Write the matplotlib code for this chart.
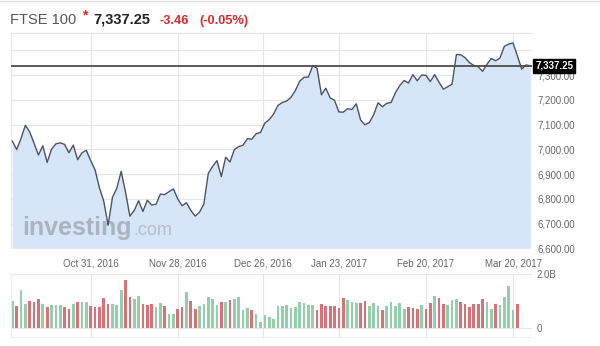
import numpy as np
import pandas as pd
import matplotlib
matplotlib.use("Agg")
import matplotlib.pyplot as plt
import matplotlib.transforms as mtransforms
from matplotlib.lines import Line2D

plt.rcParams['font.family'] = ['Liberation Sans', 'DejaVu Sans']

# ---------------- data ----------------
holidays = ['2016-12-26', '2016-12-27', '2017-01-02']
dates = pd.bdate_range('2016-10-05', '2017-03-24')
dates = dates[~dates.isin(pd.to_datetime(holidays))]

closes = [
    # Oct 2016
    7033, 6999, 7044, 7097, 7070, 7024, 6977, 7014, 6947, 7000,
    7022, 7026, 7020, 6986, 7017, 6958, 6986, 6996, 6954,
    # Nov 2016
    6917, 6845, 6790, 6693, 6806, 6843, 6911, 6827, 6730, 6753,
    6792, 6749, 6794, 6775, 6778, 6819, 6817, 6829, 6840, 6799,
    6772, 6784,
    # Dec 2016
    6753, 6730, 6746, 6779, 6902, 6931, 6954, 6890, 6968, 6949,
    6999, 7011, 7017, 7043, 7041, 7063, 7068, 7106, 7120, 7142,
    # Jan 2017
    7177, 7189, 7195, 7210, 7237, 7275, 7291, 7292, 7338, 7327,
    7220, 7247, 7208, 7198, 7151, 7150, 7164, 7161, 7184, 7118,
    7099,
    # Feb 2017
    7108, 7140, 7188, 7172, 7186, 7189, 7229, 7258, 7278, 7268,
    7302, 7277, 7300, 7299, 7274, 7302, 7271, 7243, 7253, 7263,
    # Mar 2017
    7383, 7382, 7370, 7350, 7339, 7334, 7315, 7343, 7367, 7358,
    7369, 7416, 7425, 7430, 7378, 7324, 7341, 7337.25,
]

volumes_bn = [
    1.02, 0.84, 1.43, 0.91, 1.01, 0.97, 1.08, 0.91, 0.77, 0.85,
    0.85, 0.87, 0.80, 0.71, 0.91, 0.97, 0.97, 0.97, 0.84, 0.80,
    0.80, 1.12, 0.91, 0.91, 0.87, 1.40, 1.77, 1.15, 1.07, 1.18,
    0.90, 0.87, 0.90, 0.80, 0.93, 0.84, 0.52, 0.52, 0.72, 0.80,
    1.35, 1.00, 0.72, 0.84, 0.90, 1.16, 1.07, 0.87, 0.97, 0.97,
    1.03, 1.10, 1.16, 0.66, 0.75, 0.66, 0.52, 0.21, 0.47, 0.42,
    0.35, 0.84, 0.81, 0.85, 0.74, 0.77, 0.97, 0.93, 0.87, 0.87,
    0.66, 0.90, 0.84, 0.81, 0.84, 0.75, 1.12, 1.05, 0.97, 0.95,
    0.93, 1.00, 0.84, 0.92, 0.84, 0.66, 0.84, 0.96, 0.84, 0.92,
    0.70, 0.78, 0.76, 0.72, 0.85, 0.70, 0.93, 1.20, 1.11, 0.90,
    0.85, 1.05, 1.07, 0.96, 0.90, 0.78, 0.90, 0.90, 1.10, 0.97,
    0.72, 0.90, 0.85, 1.15, 1.58, 0.66, 0.90,
]
volume_dir = ("GRGGRRRGRGGGRRGRGGRRRRRGGGRRGGRRRGGRGGRR"
              "GRRGGGGGRGRGGGGRGGGGGGGGGGGGGGRRRRRRRGGG"
              "RRGGGRGGGGGRRRGRRGRRGGGRRRRRRGGRGGGGR")

tick_dates = ['2016-10-31', '2016-11-28', '2016-12-26',
              '2017-01-23', '2017-02-20', '2017-03-20']
tick_labels = ['Oct 31, 2016', 'Nov 28, 2016', 'Dec 26, 2016',
               'Jan 23, 2017', 'Feb 20, 2017', 'Mar 20, 2017']
price_ticks = [6600, 6700, 6800, 6900, 7000, 7100, 7200, 7300, 7400]

last_price = 7337.25
change = -3.46
change_pct = -0.05

# ---------------- layout ----------------
W, H = 600, 346
fig = plt.figure(figsize=(W / 100, H / 100), dpi=100)
fig.patch.set_facecolor('white')


def rect(l, t, r, b):
    return [l / W, 1 - b / H, (r - l) / W, (b - t) / H]


ax = fig.add_axes(rect(10.5, 33, 532, 248.3))
axv = fig.add_axes(rect(10.5, 274.3, 532, 337), sharex=ax)

x = np.arange(len(closes))
grid_c = '#e6e6e6'
text_c = '#666666'
line_c = '#4a5365'
fill_c = '#d6e6f8'
green_c = '#93cfab'
red_c = '#dc7076'
red_txt = '#e3262b'

# tick positions (interpolated on calendar between trading days)
ords = np.array([d.toordinal() for d in dates])
tpos = [np.interp(pd.Timestamp(t).toordinal(), ords, x) for t in tick_dates]

# ---- price panel ----
ax.fill_between(x, closes, 6600, color=fill_c, lw=0, zorder=1)
ax.text(0.022, 0.06, 'investing', transform=ax.transAxes, fontsize=18,
        fontweight='bold', color='#a3abb6', alpha=0.85, zorder=2,
        va='baseline', ha='left')
ax.text(0.235, 0.06, '.com', transform=ax.transAxes, fontsize=13,
        color='#aeb6c1', alpha=0.85, zorder=2, va='baseline', ha='left')
ax.plot(x, closes, color=line_c, lw=1.0, zorder=3)
ax.axhline(last_price, color='#4d4d4d', lw=1.3, zorder=4)

ax.set_xlim(-0.42, 119.36)
ax.set_ylim(6600, 7470)
ax.set_yticks(price_ticks)
ax.set_yticklabels([f'{v:,.2f}' if v < 7400 else '' for v in price_ticks])
ax.yaxis.tick_right()
ax.set_xticks(tpos)
ax.set_xticklabels(tick_labels)
ax.tick_params(axis='both', length=0, labelsize=7, colors=text_c)
ax.tick_params(axis='y', pad=3.6)
ax.tick_params(axis='x', pad=7)
ax.grid(True, color=grid_c, lw=0.8, zorder=0)
ax.set_axisbelow(True)
for s in ['right', 'bottom']:
    ax.spines[s].set_visible(False)
for s in ['left', 'top']:
    ax.spines[s].set_color(grid_c)
    ax.spines[s].set_linewidth(0.8)

trans = mtransforms.blended_transform_factory(ax.transAxes, ax.transData)
ax.text(1.006, last_price, f'{last_price:,.2f}', transform=trans, color='white',
        fontsize=7, fontweight='bold', va='center', ha='left', zorder=6,
        clip_on=False,
        bbox=dict(boxstyle='square,pad=0.2', fc='black', ec='black'))

# ---- volume panel ----
bar_colors = [green_c if c == 'G' else red_c for c in volume_dir]
axv.bar(np.arange(len(volumes_bn)), volumes_bn, width=0.62,
        color=bar_colors, lw=0, zorder=2)
axv.set_ylim(-0.33, 2.0)
axv.set_yticks([0, 2.0])
axv.set_yticklabels(['0', '2.0B'])
axv.yaxis.tick_right()
axv.tick_params(axis='both', length=0, labelsize=7, colors=text_c)
axv.tick_params(axis='y', pad=3.6)
axv.tick_params(axis='x', labelbottom=False)
axv.grid(True, color=grid_c, lw=0.8, zorder=0)
axv.set_axisbelow(True)
for s in ['right', 'top']:
    axv.spines[s].set_visible(False)
for s in ['left', 'bottom']:
    axv.spines[s].set_color('#eeeeee')
    axv.spines[s].set_linewidth(0.8)

# ---- header ----
fig.add_artist(Line2D([0, 1], [1 - 0.6 / H, 1 - 0.6 / H], color='#dddddd', lw=1))


def ft(px, py, s, **kw):
    fig.text(px / W, 1 - py / H, s, va='baseline', ha='left', **kw)


ft(10, 24, 'FTSE 100', fontsize=10.5, color='#555555')
ft(82, 19, '*', fontsize=10, color=red_txt, fontweight='bold')
ft(93, 24, f'{last_price:,.2f}', fontsize=10.5, color='#222222', fontweight='bold')
ft(160, 24, f'{change:.2f}', fontsize=9.2, color=red_txt, fontweight='bold')
ft(199, 24, f'({change_pct:.2f}%)', fontsize=9.2, color=red_txt, fontweight='bold')

fig.savefig('out.png', dpi=100)
